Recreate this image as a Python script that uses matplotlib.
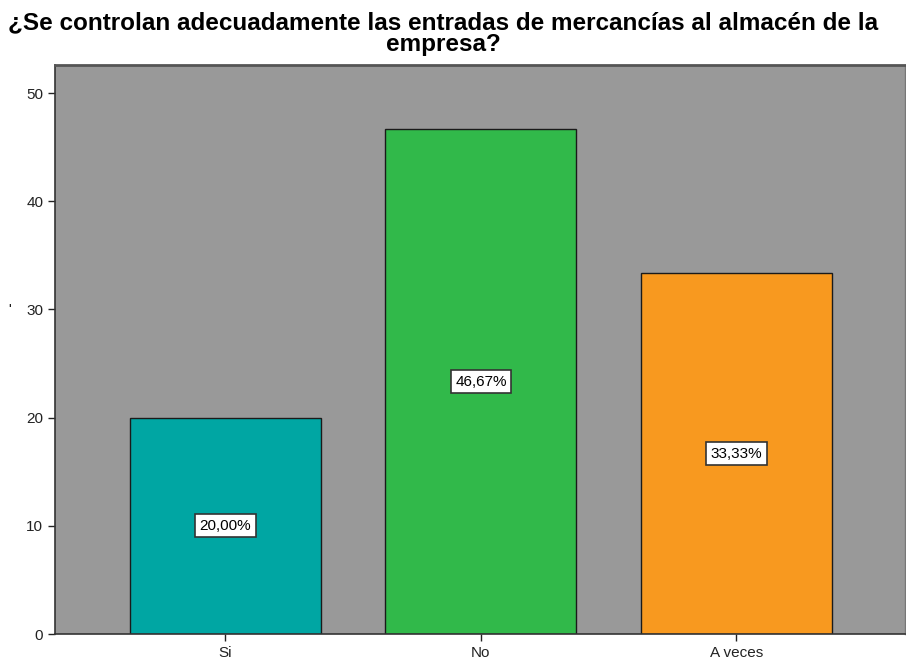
import matplotlib
matplotlib.use("Agg")
import matplotlib.pyplot as plt

categories = ["Si", "No", "A veces"]
values = [20.00, 46.67, 33.33]
labels = ["20,00%", "46,67%", "33,33%"]
colors = ["#00a6a3", "#31b94a", "#f8991f"]
title = "¿Se controlan adecuadamente las entradas de mercancías al almacén de la\nempresa?"
yticks = [0, 10, 20, 30, 40, 50]

plt.rcParams['font.family'] = ['Liberation Sans', 'DejaVu Sans']

fig = plt.figure(figsize=(9.06, 6.66), dpi=100)
ax = fig.add_axes([55/906, 1-634/666, 850/906, (634-65)/666])
ax.set_facecolor("#999999")
x = list(range(len(categories)))
ax.bar(x, values, width=0.748, color=colors, edgecolor="#1a1a1a", linewidth=1.0, zorder=2)
for xi, v, lab in zip(x, values, labels):
    ax.text(xi, v/2, lab, ha="center", va="center", fontsize=11, color="black", zorder=3,
            bbox=dict(boxstyle="square,pad=0.3", facecolor="white", edgecolor="#333333", linewidth=1.2))
ax.set_xlim(-0.667, 2.66)
ax.set_ylim(0, 52.6)
ax.set_yticks(yticks)
ax.set_xticks(x)
ax.set_xticklabels(categories)
ax.tick_params(axis="both", labelsize=11, colors="#222222", length=5, width=1)
for s in ["left", "bottom"]:
    ax.spines[s].set_color("#333333")
    ax.spines[s].set_linewidth(1.2)
ax.spines["top"].set_color("#555555")
ax.spines["top"].set_linewidth(2)
ax.spines["right"].set_color("#777777")
ax.spines["right"].set_linewidth(1)
fig.text(443/906, 1-11/666, title, ha="center", va="top", fontsize=17.5, fontweight="bold",
         linespacing=0.95, color="black")
fig.text(10/906, 1-310/666, "'", fontsize=10, ha="center", va="center")
fig.savefig("out.png", dpi=100)
